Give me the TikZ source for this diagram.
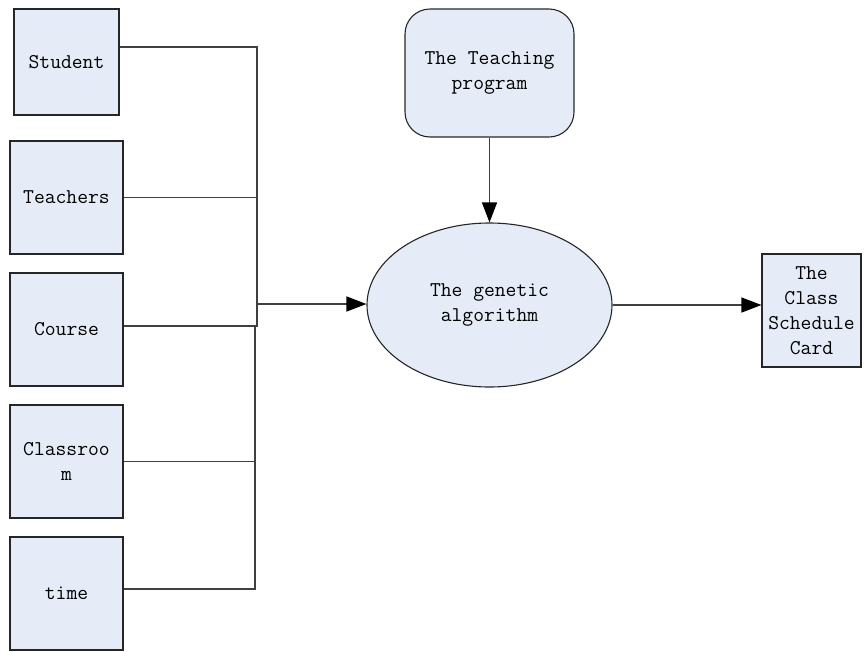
\documentclass[tikz,border=0pt]{standalone}
\usetikzlibrary{arrows.meta,shapes.geometric}
\definecolor{boxfill}{RGB}{230,236,247}
\begin{document}
\begin{tikzpicture}[x=1pt,y=-1pt,
  every node/.style={font=\ttfamily\fontsize{21}{25}\selectfont, align=center, inner sep=0pt},
  entity/.style={draw=black!85, line width=1.1pt, fill=boxfill, rectangle, minimum width=113pt, minimum height=113pt},
  roundbox/.style={draw=black!85, line width=1.1pt, fill=boxfill, rectangle, rounded corners=25pt, minimum width=169pt, minimum height=128pt},
  oval/.style={draw=black!85, line width=1.1pt, fill=boxfill, ellipse, minimum width=245pt, minimum height=164pt},
  conn/.style={draw=black!75, line width=1.2pt},
  arr/.style={conn, -{Triangle[length=20pt,width=15pt,color=black]}}
]
\useasboundingbox (0,0) rectangle (864,651);
\node[entity, minimum width=105pt, minimum height=106pt] (student) at (66.5,62) {Student};
\node[entity] (teachers) at (66.5,197.5) {Teachers};
\node[entity] (course) at (66.5,329.5) {Course};
\node[entity] (classroom) at (66.5,461.5) {Classroo\\m};
\node[entity] (time) at (66.5,593.5) {time};
\node[roundbox] (teaching) at (489.5,73) {The Teaching\\program};
\node[oval] (ga) at (489.5,305) {The genetic\\algorithm};
\node[entity, minimum width=99pt, minimum height=113pt] (card) at (811.5,310.5) {The\\Class\\Schedule\\Card};
\coordinate (busTop) at (257,47);
\coordinate (busA) at (257,326);
\coordinate (busB) at (255,326);
\coordinate (busC) at (255,589);
\coordinate (hub) at (257,304);
\draw[conn] (student.east |- busTop) -- (busTop) -- (busA) -- (course.east |- busA);
\draw[conn] (teachers.east) -- (teachers.east -| busA);
\draw[conn] (busB) -- (busC) -- (time.east |- busC);
\draw[conn] (classroom.east) -- (classroom.east -| busB);
\draw[arr] (hub) -- (hub -| ga.west);
\draw[arr] (teaching.south) -- (ga.north);
\draw[arr] (ga.east) -- (ga.east -| card.west);
\end{tikzpicture}
\end{document}
